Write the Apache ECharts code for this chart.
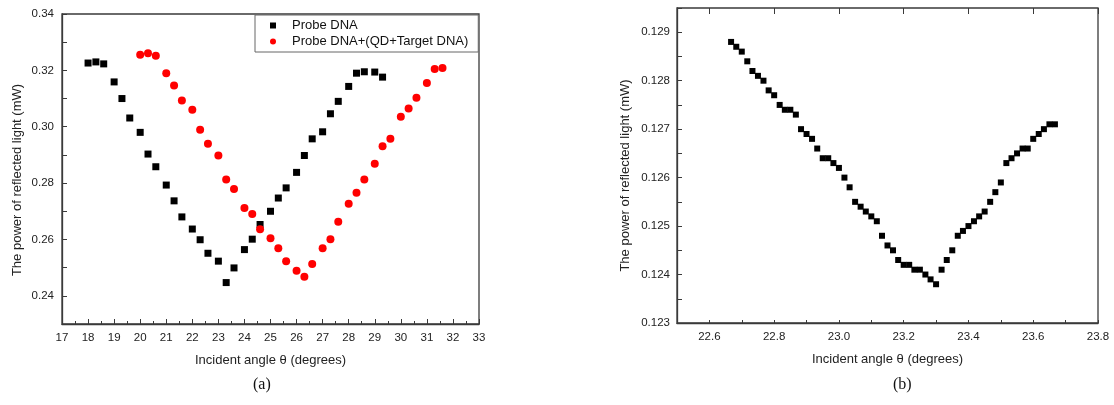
<!DOCTYPE html>
<html>
<head>
<meta charset="utf-8">
<script src="https://cdn.jsdelivr.net/npm/echarts@6/dist/echarts.min.js"></script>
<style>
  html, body { margin: 0; padding: 0; background: #fff; }
  #chart { width: 1114px; height: 405px; }
</style>
</head>
<body>
<div id="chart"></div>
<script>
// (a) Incident angle scan, degrees
const probeAngles = [18.0, 18.3, 18.6, 19.0, 19.3, 19.6, 20.0, 20.3, 20.6, 21.0, 21.3, 21.6,
  22.0, 22.3, 22.6, 23.0, 23.3, 23.6, 24.0, 24.3, 24.6, 25.0, 25.3, 25.6, 26.0, 26.3, 26.6,
  27.0, 27.3, 27.6, 28.0, 28.3, 28.6, 29.0, 29.3];
// Reflected power (mW), probe DNA only
const probePower = [0.3226, 0.3230, 0.3223, 0.3159, 0.3100, 0.3031, 0.2980, 0.2903, 0.2858,
  0.2793, 0.2737, 0.2680, 0.2637, 0.2599, 0.2551, 0.2523, 0.2447, 0.2499, 0.2564, 0.2601,
  0.2653, 0.2700, 0.2747, 0.2783, 0.2838, 0.2898, 0.2957, 0.2982, 0.3046, 0.3090, 0.3143,
  0.3190, 0.3195, 0.3194, 0.3176];

const targetAngles = [20.0, 20.3, 20.6, 21.0, 21.3, 21.6, 22.0, 22.3, 22.6, 23.0, 23.3, 23.6,
  24.0, 24.3, 24.6, 25.0, 25.3, 25.6, 26.0, 26.3, 26.6, 27.0, 27.3, 27.6, 28.0, 28.3, 28.6,
  29.0, 29.3, 29.6, 30.0, 30.3, 30.6, 31.0, 31.3, 31.6];
// Reflected power (mW), probe DNA + (QD + target DNA)
const targetPower = [0.3255, 0.3261, 0.3252, 0.3190, 0.3146, 0.3093, 0.3060, 0.2989, 0.2940,
  0.2898, 0.2813, 0.2779, 0.2712, 0.2690, 0.2636, 0.2604, 0.2569, 0.2523, 0.2489, 0.2468,
  0.2513, 0.2569, 0.2601, 0.2663, 0.2727, 0.2766, 0.2813, 0.2869, 0.2931, 0.2957, 0.3035,
  0.3065, 0.3103, 0.3155, 0.3205, 0.3208];

// (b) Fine scan around the resonance dip
const fineAngles = [22.667, 22.683, 22.700, 22.717, 22.733, 22.750, 22.767, 22.783, 22.800,
  22.817, 22.833, 22.850, 22.867, 22.883, 22.900, 22.917, 22.933, 22.950, 22.967, 22.983,
  23.000, 23.017, 23.033, 23.050, 23.067, 23.083, 23.100, 23.117, 23.133, 23.150, 23.167,
  23.183, 23.200, 23.217, 23.233, 23.250, 23.267, 23.283, 23.300, 23.317, 23.333, 23.350,
  23.367, 23.383, 23.400, 23.417, 23.433, 23.450, 23.467, 23.483, 23.500, 23.517, 23.533,
  23.550, 23.567, 23.583, 23.600, 23.617, 23.633, 23.650, 23.667];
const finePower = [0.1288, 0.1287, 0.1286, 0.1284, 0.1282, 0.1281, 0.1280, 0.1278, 0.1277,
  0.1275, 0.1274, 0.1274, 0.1273, 0.1270, 0.1269, 0.1268, 0.1266, 0.1264, 0.1264, 0.1263,
  0.1262, 0.1260, 0.1258, 0.1255, 0.1254, 0.1253, 0.1252, 0.1251, 0.1248, 0.1246, 0.1245,
  0.1243, 0.1242, 0.1242, 0.1241, 0.1241, 0.1240, 0.1239, 0.1238, 0.1241, 0.1243, 0.1245,
  0.1248, 0.1249, 0.1250, 0.1251, 0.1252, 0.1253, 0.1255, 0.1257, 0.1259, 0.1263, 0.1264,
  0.1265, 0.1266, 0.1266, 0.1268, 0.1269, 0.1270, 0.1271, 0.1271];

// Labelled ticks on the fine-scan angle axis
const fineMajorTicks = [22.6, 22.8, 23.0, 23.2, 23.4, 23.6, 23.8];

const seriesNames = ['Probe DNA', 'Probe DNA+(QD+Target DNA)'];
const panelLabels = ['(a)', '(b)'];
const xTitle = 'Incident angle θ (degrees)';
const yTitle = 'The power of reflected light (mW)';

const pair = (xs, ys) => xs.map((x, i) => [x, ys[i]]);

const AXIS_COLOR = '#3a3a3a';
const TEXT_COLOR = '#222';
const FONT = 'Liberation Sans, Arial, sans-serif';

const axisLine = { show: true, onZero: false, lineStyle: { color: AXIS_COLOR, width: 1.3 } };
const labelStyle = { color: TEXT_COLOR, fontFamily: FONT, fontSize: 11.5 };
const nameStyle = { color: TEXT_COLOR, fontFamily: FONT, fontSize: 13 };

const chart = echarts.init(document.getElementById('chart'), null, { renderer: 'canvas' });

chart.setOption({
  animation: false,
  backgroundColor: '#fff',
  grid: [
    { left: 62, top: 14, width: 417, height: 310, show: true, borderColor: AXIS_COLOR, borderWidth: 1.3, backgroundColor: 'transparent' },
    { left: 677, top: 8, width: 421, height: 315, show: true, borderColor: AXIS_COLOR, borderWidth: 1.3, backgroundColor: 'transparent' }
  ],
  legend: {
    left: 255, top: 15,
    orient: 'vertical',
    data: [
      { name: seriesNames[0], icon: 'rect' },
      { name: seriesNames[1], icon: 'circle' }
    ],
    itemWidth: 6, itemHeight: 6, itemGap: 3,
    padding: [4, 10, 4, 15],
    borderColor: '#666', borderWidth: 1,
    backgroundColor: '#fff',
    textStyle: { color: '#111', fontFamily: FONT, fontSize: 13, padding: [0, 0, 0, 11] }
  },
  xAxis: [
    {
      type: 'value', gridIndex: 0, min: 17, max: 33, interval: 1,
      axisLine,
      axisTick: { inside: true, length: 5, lineStyle: { color: AXIS_COLOR } },
      minorTick: { show: true, splitNumber: 2, length: 3, lineStyle: { color: AXIS_COLOR } },
      splitLine: { show: false },
      axisLabel: { ...labelStyle, margin: 8, showMinLabel: true, showMaxLabel: true },
      name: xTitle, nameLocation: 'middle', nameGap: 30, nameTextStyle: nameStyle
    },
    {
      type: 'value', gridIndex: 1, min: 22.5, max: 23.8, interval: 0.1,
      axisLine,
      axisTick: { inside: true, length: 3, lineStyle: { color: AXIS_COLOR } },
      splitLine: { show: false },
      axisLabel: {
        ...labelStyle, margin: 8,
        formatter: v => (Math.round(v * 10) % 2 === 0 ? v.toFixed(1) : '')
      },
      name: xTitle, nameLocation: 'middle', nameGap: 30, nameTextStyle: nameStyle
    },
    {
      // longer ticks at the labelled fine-scan angles
      type: 'value', gridIndex: 1, min: 22.5, max: 23.8,
      axisLine: { show: false },
      axisTick: { show: true, inside: true, length: 6, customValues: fineMajorTicks, lineStyle: { color: AXIS_COLOR } },
      axisLabel: { show: false },
      splitLine: { show: false }
    }
  ],
  yAxis: [
    {
      type: 'value', gridIndex: 0, min: 0.23, max: 0.34, interval: 0.01,
      axisLine,
      axisTick: { inside: true, length: 5, lineStyle: { color: AXIS_COLOR } },
      splitLine: { show: false },
      axisLabel: {
        ...labelStyle, margin: 8,
        formatter: v => (Math.round(v * 100) % 2 === 0 ? v.toFixed(2) : '')
      },
      name: yTitle, nameLocation: 'middle', nameGap: 38,
      nameTextStyle: { ...nameStyle, padding: [0, 22, 0, 0] }
    },
    {
      type: 'value', gridIndex: 1, min: 0.123, max: 0.1295, interval: 0.0005,
      axisLine,
      axisTick: { inside: true, length: 5, lineStyle: { color: AXIS_COLOR } },
      splitLine: { show: false },
      axisLabel: {
        ...labelStyle, margin: 7,
        formatter: v => (Math.round(v * 2000) % 2 === 0 ? v.toFixed(3) : '')
      },
      name: yTitle, nameLocation: 'middle', nameGap: 45,
      nameTextStyle: { ...nameStyle, padding: [0, 20, 0, 0] }
    }
  ],
  graphic: [
    { type: 'text', left: 253, top: 377, style: { text: panelLabels[0], font: '16px "Liberation Serif", "Times New Roman", serif', fill: '#111' } },
    { type: 'text', left: 893, top: 377, style: { text: panelLabels[1], font: '16px "Liberation Serif", "Times New Roman", serif', fill: '#111' } }
  ],
  series: [
    {
      name: seriesNames[0], type: 'scatter', xAxisIndex: 0, yAxisIndex: 0,
      symbol: 'rect', symbolSize: 7,
      itemStyle: { color: '#000', opacity: 1 },
      data: pair(probeAngles, probePower)
    },
    {
      name: seriesNames[1], type: 'scatter', xAxisIndex: 0, yAxisIndex: 0,
      symbol: 'circle', symbolSize: 8,
      itemStyle: { color: '#ff0000', opacity: 1 },
      data: pair(targetAngles, targetPower)
    },
    {
      name: 'fine scan', type: 'scatter', xAxisIndex: 1, yAxisIndex: 1,
      symbol: 'rect', symbolSize: 6,
      itemStyle: { color: '#000', opacity: 1 },
      data: pair(fineAngles, finePower)
    }
  ]
});
</script>
</body>
</html>
